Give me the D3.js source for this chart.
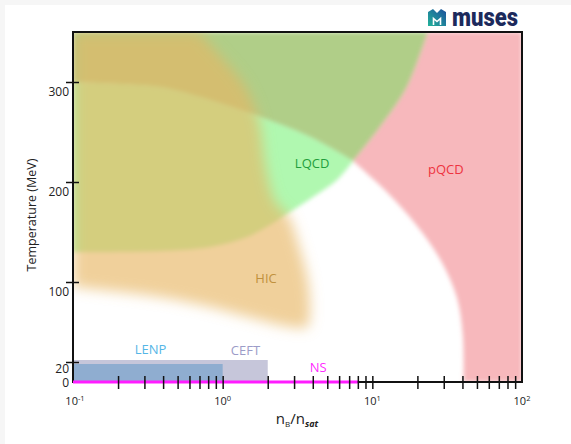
<!DOCTYPE html>
<html>
<head>
<meta charset="utf-8">
<script src="https://cdn.jsdelivr.net/npm/d3@7"></script>
<style>
  html, body { margin: 0; padding: 0; background: #f6f6f6; }
  svg { display: block; }
</style>
</head>
<body>
<svg id="chart" width="571" height="444"></svg>
<script>
// ---- axes ----
const densityDomain = [0.1, 100];
const temperatureDomain = [0, 350];
const densityMajorTicks = [0.1, 1, 10, 100];
const densityTickExponents = ["-1", "0", "1", "2"];
const temperatureTicks = [0, 20, 100, 200, 300];

// ---- region outlines, points are [n_B/n_sat, T (MeV)] ----
// crossover boundary, left part (top of the lattice band) and right part (edge of pQCD)
const crossoverUpper = [[0.1, 300], [0.206, 298], [0.381, 295], [0.823, 282], [1.776, 265], [3.83, 245], [7.43, 221]];
const crossoverLower = [[7.43, 221], [12.5, 190], [19.9, 156], [28.3, 123], [36.8, 84], [40.3, 45], [40.6, 0]];
// edge between high-T lattice area and pQCD
const pqcdEdge = [[23.5, 350], [17.0, 295], [11.25, 255], [7.43, 221]];
// lower edge of the lattice QCD band
const lqcdLowerEdge = [[7.43, 221], [5.81, 202], [4.01, 185], [2.82, 170], [2.17, 159], [1.454, 145], [0.823, 135], [0.381, 131], [0.1, 130]];
// heavy-ion collision coverage
const hicEdge = [[0.69, 350], [1.02, 322], [1.42, 295], [1.74, 262], [1.95, 212], [2.25, 180], [2.75, 166], [3.25, 135],
                 [3.7, 102], [3.83, 69], [3.66, 55], [2.61, 56], [1.776, 62], [0.823, 75], [0.381, 85], [0.1, 95]];
// low-T bands along the density axis
const lenpDensity = [0.1, 1];
const lenpTemperature = [0, 18];
const ceftDensity = [0.1, 2];
const ceftTemperature = [0, 22];
const nsDensity = [0.1, 8];

// ---- region labels ----
const regionNames = ["LQCD", "pQCD", "HIC", "LENP", "CEFT", "NS"];
const regionLabelAt = [[3.96, 219], [31, 213], [1.95, 104], [0.33, 33], [1.42, 32], [4.35, 15]];
const regionColors = ["#1f9e3c", "#ee3340", "#c0913e", "#55b6e6", "#9c9cc8", "#ff2cff"];

const svg = d3.select("#chart");
const W = 571, H = 444;
const m = { left: 73, right: 522, top: 32, bottom: 382 };

svg.append("rect").attr("x", 5).attr("y", 5).attr("width", W - 5).attr("height", H - 5).attr("fill", "#fff");

const x = d3.scaleLog().domain(densityDomain).range([m.left, m.right]);
const y = d3.scaleLinear().domain(temperatureDomain).range([m.bottom, m.top]);

const defs = svg.append("defs");
defs.append("clipPath").attr("id", "plotClip")
  .append("rect").attr("x", m.left).attr("y", m.top)
  .attr("width", m.right - m.left).attr("height", m.bottom - m.top);
defs.append("filter").attr("id", "soft")
  .attr("x", "-10%").attr("y", "-10%").attr("width", "120%").attr("height", "120%")
  .append("feGaussianBlur").attr("stdDeviation", 2.2);
defs.append("filter").attr("id", "haze")
  .attr("x", "-30%").attr("y", "-30%").attr("width", "160%").attr("height", "160%")
  .append("feGaussianBlur").attr("stdDeviation", 6.5);

const smooth = d3.line().x(d => x(d[0])).y(d => y(d[1])).curve(d3.curveCatmullRom.alpha(0.5));
const straight = d3.line().x(d => x(d[0])).y(d => y(d[1]));
// join several edge pieces into one closed outline
function outline(...pieces) {
  return pieces.map((p, i) => {
    const s = (p.curve ? smooth : straight)(p.pts);
    return i === 0 ? s : s.replace(/^M/, "L");
  }).join("") + "Z";
}
const rev = a => a.slice().reverse();
const [n0, n1] = densityDomain;
const [t0, t1] = temperatureDomain;

const plot = svg.append("g").attr("clip-path", "url(#plotClip)");

// opaque theory regions, blurred together so neighbours blend
const theory = plot.append("g").attr("filter", "url(#soft)");
theory.append("path")
  .attr("d", outline(
    { pts: pqcdEdge, curve: true },
    { pts: crossoverLower, curve: true },
    { pts: [[crossoverLower[crossoverLower.length - 1][0], t0], [n1, t0], [n1, t1], [pqcdEdge[0][0], t1]], curve: false }))
  .attr("fill", "#f7b8bc");
theory.append("path")
  .attr("d", outline(
    { pts: [[n0, crossoverUpper[0][1]], [n0, t1], [pqcdEdge[0][0], t1]], curve: false },
    { pts: pqcdEdge, curve: true },
    { pts: rev(crossoverUpper), curve: true }))
  .attr("fill", "#b0ce88");
theory.append("path")
  .attr("d", outline(
    { pts: crossoverUpper, curve: true },
    { pts: lqcdLowerEdge, curve: true }))
  .attr("fill", "#b0f8b0");

// heavy-ion coverage, translucent haze on top
plot.append("g").attr("filter", "url(#haze)")
  .append("path")
  .attr("d", outline(
    { pts: [[n0, hicEdge[hicEdge.length - 1][1]], [n0, t1], hicEdge[0]], curve: false },
    { pts: hicEdge, curve: true }))
  .attr("fill", "#e7b563").attr("opacity", 0.64);

// low temperature bands
plot.append("rect")
  .attr("x", x(ceftDensity[0])).attr("y", y(ceftTemperature[1]))
  .attr("width", x(ceftDensity[1]) - x(ceftDensity[0]))
  .attr("height", y(ceftTemperature[0]) - y(ceftTemperature[1]))
  .attr("fill", "#c6c6da");
plot.append("rect")
  .attr("x", x(lenpDensity[0])).attr("y", y(lenpTemperature[1]))
  .attr("width", x(lenpDensity[1]) - x(lenpDensity[0]))
  .attr("height", y(lenpTemperature[0]) - y(lenpTemperature[1]))
  .attr("fill", "#8fadd0");

// frame
svg.append("rect")
  .attr("x", m.left).attr("y", m.top)
  .attr("width", m.right - m.left).attr("height", m.bottom - m.top)
  .attr("fill", "none").attr("stroke", "#111").attr("stroke-width", 2);

// neutron-star line along the density axis
svg.append("line")
  .attr("x1", x(nsDensity[0])).attr("x2", x(nsDensity[1]))
  .attr("y1", y(0)).attr("y2", y(0))
  .attr("stroke", "#ff1cff").attr("stroke-width", 3);

// x ticks, crossing the axis
const xAxis = svg.append("g")
  .attr("transform", `translate(0,${m.bottom})`)
  .call(d3.axisBottom(x).tickValues(x.ticks().filter(v => v > n0 && v < n1)).tickSize(7).tickFormat(""));
xAxis.select(".domain").remove();
xAxis.selectAll(".tick line").attr("y1", -6).attr("stroke", "#111").attr("stroke-width", 1.5);

const xl = svg.append("g").attr("font-family", "'Open Sans', sans-serif").attr("fill", "#222");
densityMajorTicks.forEach((v, i) => {
  const t = xl.append("text")
    .attr("x", x(v) + (i === 0 ? 2 : 0)).attr("y", 405)
    .attr("text-anchor", "middle").attr("font-size", 11);
  t.append("tspan").text("10");
  t.append("tspan").attr("dy", -4).attr("font-size", 7.5).text(densityTickExponents[i]);
});

// y ticks, crossing the axis
const yAxis = svg.append("g")
  .attr("transform", `translate(${m.left},0)`)
  .call(d3.axisLeft(y).tickValues(temperatureTicks).tickSize(7).tickPadding(4));
yAxis.select(".domain").remove();
yAxis.selectAll(".tick line").attr("x1", 6).attr("stroke", "#111").attr("stroke-width", 1.5)
  .attr("display", d => d === 0 ? "none" : null);
yAxis.selectAll(".tick text")
  .attr("font-family", "'Open Sans', sans-serif").attr("font-size", 12).attr("fill", "#222")
  .attr("x", -4)
  .attr("dy", d => d === 0 ? "0.4em" : d === 20 ? "0.88em" : "1.1em");

// axis titles
const xt = svg.append("text")
  .attr("x", 297).attr("y", 424).attr("text-anchor", "middle")
  .attr("font-family", "'Open Sans', sans-serif").attr("font-size", 15).attr("fill", "#222");
xt.append("tspan").text("n");
xt.append("tspan").attr("dy", 3).attr("font-size", 8).text("B");
xt.append("tspan").attr("dy", -3).text("/n");
xt.append("tspan").attr("dy", 3).attr("font-size", 9).attr("font-style", "italic").attr("font-weight", "bold").text("sat");

svg.append("text")
  .attr("transform", "translate(36,215) rotate(-90)")
  .attr("text-anchor", "middle")
  .attr("font-family", "'Open Sans', sans-serif").attr("font-size", 12.5).attr("fill", "#222")
  .text("Temperature (MeV)");

// region labels
svg.append("g").selectAll("text").data(regionNames).join("text")
  .attr("x", (d, i) => x(regionLabelAt[i][0]))
  .attr("y", (d, i) => y(regionLabelAt[i][1]))
  .attr("dy", "0.35em").attr("text-anchor", "middle")
  .attr("font-family", "'Open Sans', sans-serif").attr("font-size", 13)
  .attr("fill", (d, i) => regionColors[i])
  .text(d => d);

// logo
const grad = defs.append("linearGradient").attr("id", "logoGrad")
  .attr("x1", 0).attr("y1", 1).attr("x2", 1).attr("y2", 0);
grad.append("stop").attr("offset", 0).attr("stop-color", "#22b39a");
grad.append("stop").attr("offset", 1).attr("stop-color", "#1d4f9c");
const logo = svg.append("g").attr("transform", "translate(428,8)");
logo.append("path").attr("d", "M0,4 L5,1 L9,5 L13,1 L18,4 L18,18 L0,18 Z").attr("fill", "url(#logoGrad)");
logo.append("path").attr("d", "M5.5,17 V10.5 L9,13.5 L12.5,10.5 V17")
  .attr("fill", "none").attr("stroke", "#fff").attr("stroke-width", 1.6);
svg.append("text")
  .attr("x", 452).attr("y", 26)
  .attr("font-family", "Roboto, sans-serif").attr("font-weight", 900).attr("font-size", 25)
  .attr("fill", "#1c2a5c")
  .attr("textLength", 66).attr("lengthAdjust", "spacingAndGlyphs")
  .text("muses");
</script>
</body>
</html>
